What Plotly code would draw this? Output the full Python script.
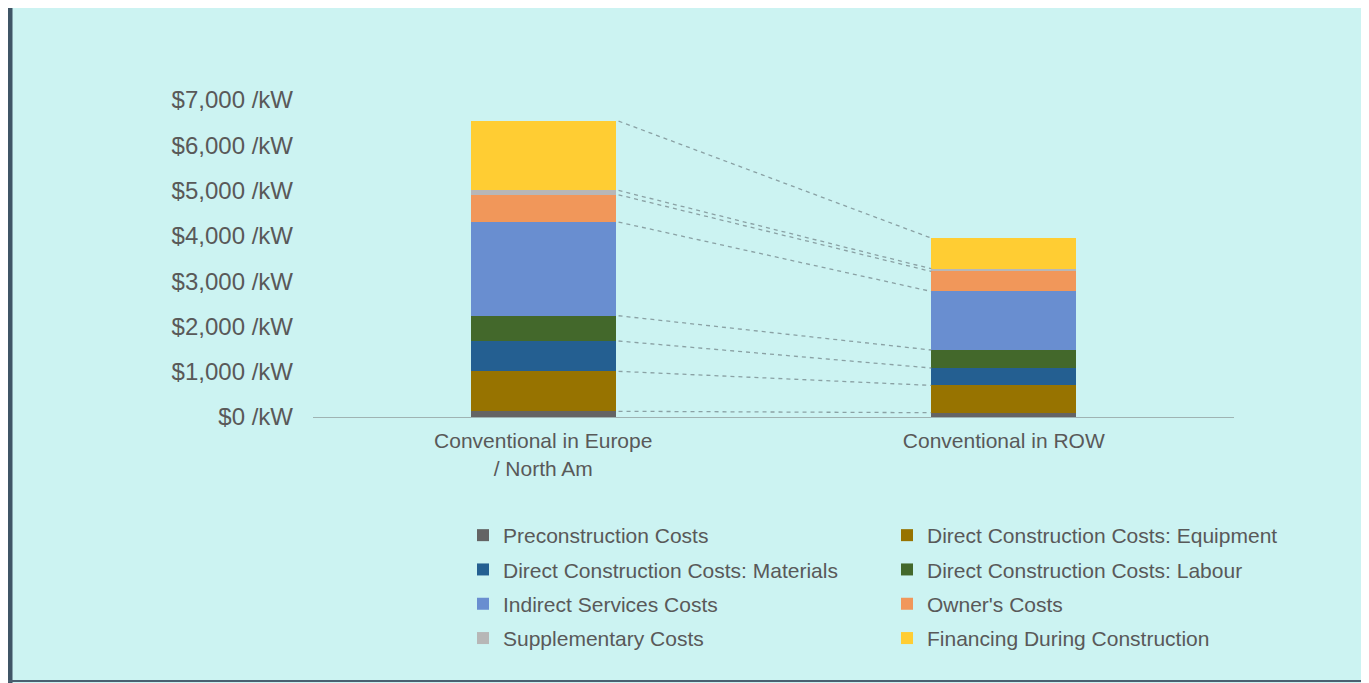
import plotly.graph_objects as go
import numpy as np

categories = ["Conventional in Europe<br>/ North Am", "Conventional in ROW"]
series_names = [
    "Preconstruction Costs",
    "Direct Construction Costs: Equipment",
    "Direct Construction Costs: Materials",
    "Direct Construction Costs: Labour",
    "Indirect Services Costs",
    "Owner's Costs",
    "Supplementary Costs",
    "Financing During Construction",
]
europe = [126, 883, 669, 558, 2069, 601, 96, 1532]
row = [95, 603, 384, 397, 1294, 441, 60, 677]
colors = ["#646464", "#977300", "#245f91", "#43682b", "#698ed0", "#f1975a", "#b7b7b7", "#ffcd33"]
tick_vals = [0, 1000, 2000, 3000, 4000, 5000, 6000, 7000]
tick_text = ["$%s /kW" % format(v, ",") for v in tick_vals]

W, H = 1359, 675
L, R, T, B = 305, 133, 92, 266
pw, ph = W - L - R, H - T - B
bar_w = 0.315
xs = [0, 1]

def px_x(p):
    return (p - L) / pw

def px_y(p):
    return (H - B - p) / ph

fig = go.Figure()
for i, (name, e, r, c) in enumerate(zip(series_names, europe, row, colors)):
    fig.add_trace(go.Bar(x=xs, y=[e, r], name=name, marker=dict(color=c, line=dict(width=0)),
                         width=bar_w, legendgroup="g%d" % i,
                         legend="legend" if i % 2 == 0 else "legend2"))

cum_e = np.cumsum(europe)
cum_r = np.cumsum(row)
gap = 0.006
for a, b in zip(cum_e, cum_r):
    fig.add_trace(go.Scatter(x=[xs[0] + bar_w / 2 + gap, xs[1] - bar_w / 2], y=[a, b], mode="lines",
                             line=dict(color="#8aa1a4", width=1.3, dash="4px,4px"),
                             showlegend=False, hoverinfo="skip"))

shapes = [
    dict(type="rect", xref="paper", yref="paper", x0=px_x(4), x1=px_x(W), y0=px_y(H), y1=px_y(0),
         fillcolor="#ccf3f2", line=dict(width=0), layer="below"),
    dict(type="rect", xref="paper", yref="paper", x0=px_x(0), x1=px_x(4.5), y0=px_y(H), y1=px_y(0),
         fillcolor="#3f5566", line=dict(width=0), layer="below"),
    dict(type="rect", xref="paper", yref="paper", x0=px_x(0), x1=px_x(W), y0=px_y(H - 1), y1=px_y(H - 3),
         fillcolor="#4a6070", line=dict(width=0), layer="below"),
]

leg_common = dict(orientation="v", xanchor="left", yanchor="top", traceorder="grouped",
                  tracegroupgap=4, font=dict(size=21, color="#595959"),
                  bgcolor="rgba(0,0,0,0)", itemwidth=30)

fig.update_layout(
    width=W, height=H,
    margin=dict(l=L, r=R, t=T, b=B, pad=0, autoexpand=False),
    barmode="stack",
    paper_bgcolor="white",
    plot_bgcolor="rgba(0,0,0,0)",
    font=dict(family="Liberation Sans, Arial, sans-serif", size=21, color="#595959"),
    shapes=shapes,
    xaxis=dict(range=[-0.5, 1.5], tickvals=xs, ticktext=categories, showgrid=False, zeroline=False,
               showline=True, linecolor="#9fb3b3", linewidth=1, ticks="", fixedrange=True,
               ticklabelstandoff=5, tickfont=dict(size=21, color="#595959")),
    yaxis=dict(range=[0, 7000], tickvals=tick_vals, ticktext=tick_text, showgrid=False, zeroline=False,
               showline=False, ticks="", ticklabelstandoff=19, tickfont=dict(size=24, color="#595959")),
    legend=dict(x=px_x(455), y=px_y(507), **leg_common),
    legend2=dict(x=px_x(879), y=px_y(507), **leg_common),
    showlegend=True,
)

fig.write_html("out.html")
